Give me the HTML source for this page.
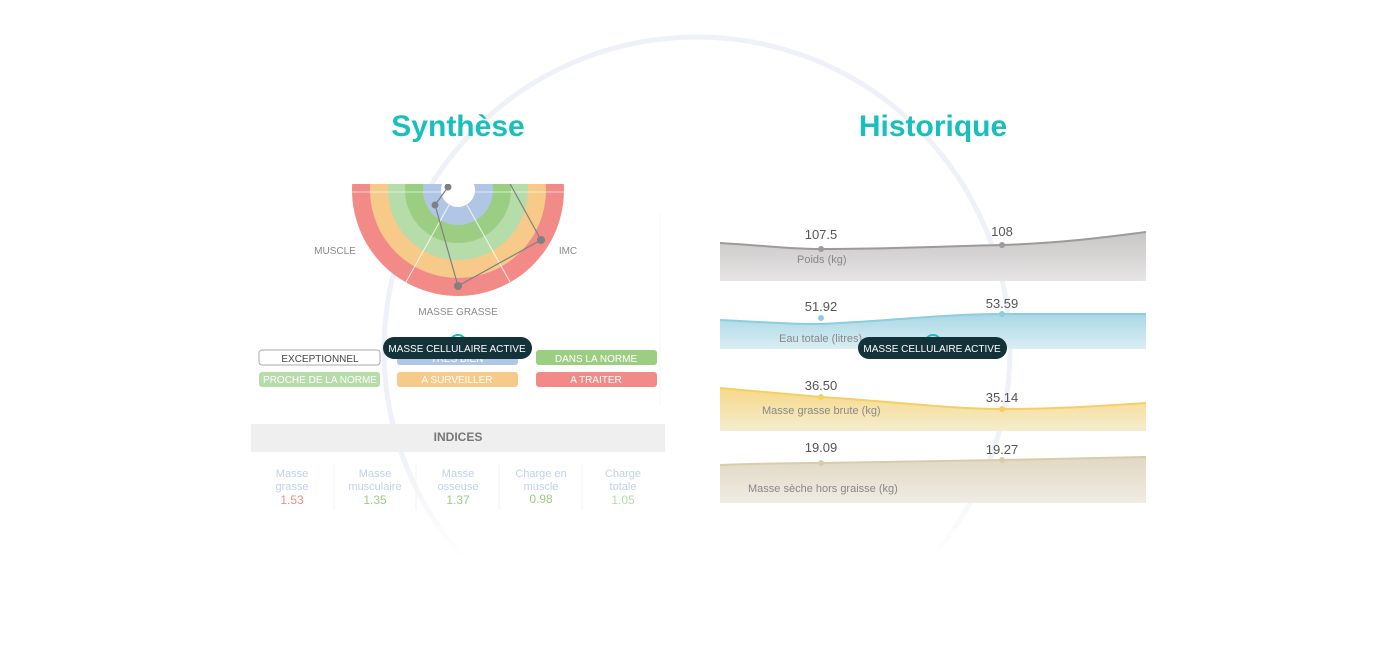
<!DOCTYPE html>
<html><head><meta charset="utf-8"><style>
html,body{margin:0;padding:0;background:#fff;}
svg{display:block;}
text{font-family:"Liberation Sans",sans-serif;}
</style></head><body>
<svg width="1385" height="653" viewBox="0 0 1385 653" xmlns="http://www.w3.org/2000/svg">
<defs>
<linearGradient id="g1" x1="0" y1="0" x2="0" y2="1"><stop offset="0" stop-color="#c8c5c5"/><stop offset="1" stop-color="#e6e4e4"/></linearGradient>
<linearGradient id="g2" x1="0" y1="0" x2="0" y2="1"><stop offset="0" stop-color="#a9d7e6"/><stop offset="1" stop-color="#dbeef4"/></linearGradient>
<linearGradient id="g3" x1="0" y1="0" x2="0" y2="1"><stop offset="0" stop-color="#f6d887"/><stop offset="1" stop-color="#f6edcf"/></linearGradient>
<linearGradient id="g4" x1="0" y1="0" x2="0" y2="1"><stop offset="0" stop-color="#e1d8c3"/><stop offset="1" stop-color="#f0ece4"/></linearGradient>
<linearGradient id="gc" gradientUnits="userSpaceOnUse" x1="0" y1="30" x2="0" y2="560"><stop offset="0" stop-color="#eef1f7"/><stop offset="0.8" stop-color="#eef1f7"/><stop offset="1" stop-color="#eef1f7" stop-opacity="0"/></linearGradient>
<clipPath id="cl"><rect x="250" y="184" width="420" height="200"/></clipPath>
</defs>
<!-- big faint circle -->
<circle cx="697" cy="350" r="313" fill="none" stroke="url(#gc)" stroke-width="5"/>
<!-- titles -->
<text x="458" y="136" text-anchor="middle" font-size="30" font-weight="bold" fill="#19bfbf">Synthèse</text>
<text x="933" y="136" text-anchor="middle" font-size="30" font-weight="bold" fill="#19bfbf">Historique</text>
<line x1="660" y1="214" x2="660" y2="406" stroke="#f4f4f4"/>
<g clip-path="url(#cl)">
<circle cx="458" cy="190" r="106" fill="#f28b88"/>
<circle cx="458" cy="190" r="88" fill="#f8ca8a"/>
<circle cx="458" cy="190" r="70" fill="#b6dcaa"/>
<circle cx="458" cy="190" r="53" fill="#9bce82"/>
<circle cx="458" cy="190" r="35" fill="#b1c6e5"/>
<circle cx="458" cy="190" r="17" fill="#fff"/>
<line x1="250" y1="192" x2="670" y2="192" stroke="#fff" stroke-opacity="0.6"/>
<line x1="449" y1="205" x2="406" y2="282" stroke="#fff" stroke-opacity="0.8"/>
<line x1="467" y1="205" x2="510" y2="282" stroke="#fff" stroke-opacity="0.8"/>
<polyline points="448,187 435,205 458,286 541,240 508,180" fill="none" stroke="#808080" stroke-width="1.2"/>
<circle cx="448" cy="187" r="3.5" fill="#808080"/>
<circle cx="435" cy="205" r="3.5" fill="#808080"/>
<circle cx="458" cy="286" r="4" fill="#808080"/>
<circle cx="541" cy="240" r="4" fill="#808080"/>
</g>
<text x="335" y="254" text-anchor="middle" font-size="10" fill="#8a8a8a">MUSCLE</text>
<text x="568" y="254" text-anchor="middle" font-size="10" fill="#8a8a8a">IMC</text>
<text x="458" y="315" text-anchor="middle" font-size="10" fill="#8a8a8a">MASSE GRASSE</text>
<!-- legend -->
<rect x="259" y="350" width="121" height="15" rx="3" fill="#fff" stroke="#aaa"/>
<text x="320" y="362" text-anchor="middle" font-size="10" fill="#444">EXCEPTIONNEL</text>
<rect x="397" y="350" width="121" height="15" rx="3" fill="#b1c6e5"/>
<text x="457" y="362" text-anchor="middle" font-size="10" fill="#fff">TRÈS BIEN</text>
<rect x="536" y="350" width="121" height="15" rx="3" fill="#9bce82"/>
<text x="596" y="362" text-anchor="middle" font-size="10" fill="#fff">DANS LA NORME</text>
<rect x="259" y="372" width="121" height="15" rx="3" fill="#b6dcaa"/>
<text x="320" y="383" text-anchor="middle" font-size="10" fill="#fff">PROCHE DE LA NORME</text>
<rect x="397" y="372" width="121" height="15" rx="3" fill="#f8ca8a"/>
<text x="457" y="383" text-anchor="middle" font-size="10" fill="#fff">A SURVEILLER</text>
<rect x="536" y="372" width="121" height="15" rx="3" fill="#f28b88"/>
<text x="596" y="383" text-anchor="middle" font-size="10" fill="#fff">A TRAITER</text>
<circle cx="458" cy="343" r="8" fill="none" stroke="#19bfbf" stroke-width="2"/>
<rect x="383" y="337" width="149" height="22" rx="11" fill="#13323a"/>
<text x="457" y="352" text-anchor="middle" font-size="10" fill="#fff">MASSE CELLULAIRE ACTIVE</text>
<!-- indices -->
<rect x="251" y="424" width="414" height="28" fill="#efefef"/>
<text x="458" y="441" text-anchor="middle" font-size="12" font-weight="bold" fill="#777">INDICES</text>
<g font-size="11" fill="#c3d0ea" text-anchor="middle">
<text x="292" y="477">Masse</text><text x="292" y="490">grasse</text>
<text x="375" y="477">Masse</text><text x="375" y="490">musculaire</text>
<text x="458" y="477">Masse</text><text x="458" y="490">osseuse</text>
<text x="541" y="477">Charge en</text><text x="541" y="490">muscle</text>
<text x="623" y="477">Charge</text><text x="623" y="490">totale</text>
</g>
<g font-size="12" text-anchor="middle">
<text x="292" y="504" fill="#f28b88">1.53</text>
<text x="375" y="504" fill="#9bce82">1.35</text>
<text x="458" y="504" fill="#9bce82">1.37</text>
<text x="541" y="503" fill="#9bce82">0.98</text>
<text x="623" y="504" fill="#b6dcaa">1.05</text>
</g>
<g stroke="#f2f2f2"><line x1="334" y1="465" x2="334" y2="510"/><line x1="416" y1="465" x2="416" y2="510"/><line x1="499" y1="465" x2="499" y2="510"/><line x1="582" y1="465" x2="582" y2="510"/></g>
<!-- right charts -->
<path d="M720,243 C770,246 790,249 821,249 C900,249 950,246 1002,245 C1060,243 1100,238 1146,232 L1146,281 L720,281 Z" fill="url(#g1)"/>
<path d="M720,243 C770,246 790,249 821,249 C900,249 950,246 1002,245 C1060,243 1100,238 1146,232" fill="none" stroke="#9c9a9a" stroke-width="2"/>
<path d="M720,320 C780,323 790,324 821,324 C900,320 950,314 1002,314 L1146,314 L1146,349 L720,349 Z" fill="url(#g2)"/>
<path d="M720,320 C780,323 790,324 821,324 C900,320 950,314 1002,314 L1146,314" fill="none" stroke="#8ccde0" stroke-width="2"/>
<path d="M720,388 L821,397 C900,402 950,409 1002,409 C1060,409 1100,406 1146,403 L1146,431 L720,431 Z" fill="url(#g3)"/>
<path d="M720,388 L821,397 C900,402 950,409 1002,409 C1060,409 1100,406 1146,403" fill="none" stroke="#f5cf65" stroke-width="2"/>
<path d="M720,465 C780,463 800,463 821,463 L1002,460 L1146,457 L1146,503 L720,503 Z" fill="url(#g4)"/>
<path d="M720,465 C780,463 800,463 821,463 L1002,460 L1146,457" fill="none" stroke="#d8ccaa" stroke-width="2"/>
<circle cx="821" cy="249" r="3" fill="#9c9a9a"/><circle cx="1002" cy="245" r="3" fill="#9c9a9a"/>
<circle cx="821" cy="318" r="3" fill="#8ccde0"/><circle cx="1002" cy="314" r="3" fill="#8ccde0"/>
<circle cx="821" cy="397" r="3" fill="#f5cf65"/><circle cx="1002" cy="409" r="3" fill="#f5cf65"/>
<circle cx="821" cy="463" r="3" fill="#d8ccaa"/><circle cx="1002" cy="460" r="3" fill="#d8ccaa"/>
<g font-size="13" fill="#555" text-anchor="middle">
<text x="821" y="239">107.5</text><text x="1002" y="236">108</text>
<text x="821" y="311">51.92</text><text x="1002" y="308">53.59</text>
<text x="821" y="390">36.50</text><text x="1002" y="402">35.14</text>
<text x="821" y="452">19.09</text><text x="1002" y="454">19.27</text>
</g>
<g font-size="11" fill="#888">
<text x="797" y="263">Poids (kg)</text>
<text x="779" y="342">Eau totale (litres)</text>
<text x="762" y="414">Masse grasse brute (kg)</text>
<text x="748" y="492">Masse sèche hors graisse (kg)</text>
</g>
<circle cx="933" cy="343" r="8" fill="none" stroke="#19bfbf" stroke-width="2"/>
<rect x="858" y="337" width="149" height="22" rx="11" fill="#13323a"/>
<text x="932" y="352" text-anchor="middle" font-size="10" fill="#fff">MASSE CELLULAIRE ACTIVE</text>
</svg>
</body></html>
